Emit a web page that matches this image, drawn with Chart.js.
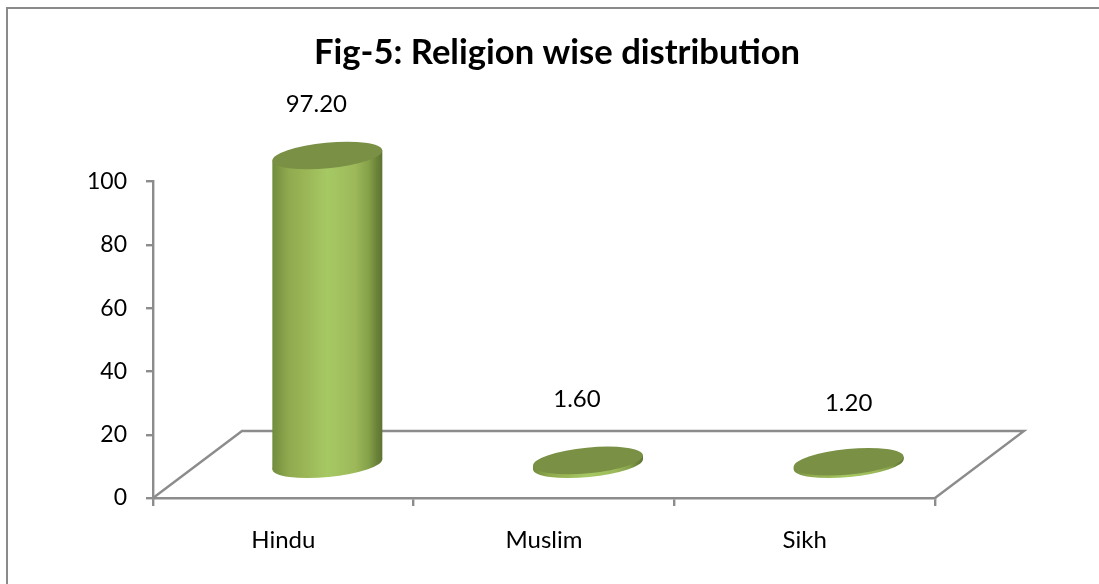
<!DOCTYPE html>
<html><head><meta charset="utf-8">
<style>html,body{margin:0;padding:0;background:#fff}#w{width:1099px;height:584px;position:relative}</style>
<script src="https://cdn.jsdelivr.net/npm/chart.js@4"></script>
</head><body><div id="w"><canvas id="c" width="1099" height="584"></canvas></div>
<script>
const categories = ['Hindu', 'Muslim', 'Sikh'];
const values = [97.2, 1.6, 1.2];
const valueLabels = ['97.20', '1.60', '1.20'];
const yTicks = [0, 20, 40, 60, 80, 100];
const titleText = 'Fig-5: Religion wise distribution';

const FONT = 'Lato, Carlito, Calibri, sans-serif';
const AXIS = '#8c8c8c';
const DEPTH_X = 89, DEPTH_Y = 67;

function ellipsePath(ctx, x, y) {
  ctx.beginPath();
  ctx.ellipse(x, y, 55.2, 12.8, -5.5 * Math.PI / 180, 0, Math.PI * 2);
}
const labelShift = [[-11, -51], [-11, -61], [0, -58]];

const cylinders = {
  id: 'cylinders',
  afterLayout(chart) {
    const t = chart.titleBlock;
    t.left = 0; t.right = 1114;
    const h = t.bottom - t.top;
    t.top = 32; t.bottom = 32 + h;
  },
  beforeDatasetsDraw(chart) {
    const { ctx, scales: { x, y } } = chart;
    const l = x.left, r = x.right, b = y.bottom;
    ctx.save();
    ctx.strokeStyle = AXIS; ctx.lineWidth = 2.4;
    ctx.beginPath();
    ctx.moveTo(l, b);
    ctx.lineTo(l + DEPTH_X, b - DEPTH_Y);
    ctx.lineTo(r + DEPTH_X, b - DEPTH_Y);
    ctx.lineTo(r, b);
    ctx.stroke();
    // frame
    ctx.lineWidth = 2;
    ctx.strokeStyle = '#8a8a8a';
    ctx.beginPath();
    ctx.moveTo(7, 584); ctx.lineTo(7, 8); ctx.lineTo(1099, 8);
    ctx.stroke();
    ctx.restore();
  },
  afterDatasetsDraw(chart) {
    const { ctx } = chart;
    const meta = chart.getDatasetMeta(0);
    meta.data.forEach((bar, i) => {
      const cx = bar.x + 44;
      const baseY = bar.base - 32.5;
      const topY = baseY - (bar.base - bar.y) * 1.008;
      const hw = 55, dy = 5;
      const g = ctx.createLinearGradient(cx - hw, 0, cx + hw, 0);
      g.addColorStop(0, '#718c3c');
      g.addColorStop(0.15, '#90aa4f');
      g.addColorStop(0.3, '#9ab656');
      g.addColorStop(0.5, '#a6c964');
      g.addColorStop(0.75, '#9db95a');
      g.addColorStop(0.88, '#84a049');
      g.addColorStop(0.95, '#6a8238');
      g.addColorStop(1, '#5c7433');
      ctx.save();
      ellipsePath(ctx, cx, baseY);
      ctx.fillStyle = g; ctx.fill();
      ctx.beginPath();
      ctx.moveTo(cx - hw, topY + dy);
      ctx.lineTo(cx + hw, topY - dy);
      ctx.lineTo(cx + hw, baseY - dy);
      ctx.lineTo(cx - hw, baseY + dy);
      ctx.closePath();
      ctx.fill();
      ellipsePath(ctx, cx, topY);
      ctx.fillStyle = '#7a9045'; ctx.fill();
      ctx.fillStyle = '#000';
      ctx.font = '24px ' + FONT;
      ctx.textAlign = 'center'; ctx.textBaseline = 'middle';
      ctx.fillText(valueLabels[i], cx + labelShift[i][0], topY + labelShift[i][1]);
      ctx.restore();
    });
  }
};

new Chart(document.getElementById('c'), {
  type: 'bar',
  data: { labels: categories, datasets: [{ data: values, backgroundColor: 'rgba(0,0,0,0)', borderWidth: 0 }] },
  options: {
    responsive: false, animation: false,
    layout: { padding: { left: 8, right: 164, top: 30, bottom: 30 } },
    plugins: {
      legend: { display: false }, tooltip: { enabled: false },
      title: { display: true, text: titleText, color: '#000', padding: { top: 0, bottom: 110 },
        font: { family: FONT, size: 34.6, weight: 'bold' } }
    },
    scales: {
      x: {
        afterFit(s) { s.height = 56; },
        border: { color: AXIS, width: 2.4 },
        grid: { display: true, drawOnChartArea: false, drawTicks: true, tickLength: 8, color: AXIS, lineWidth: 2.4 },
        ticks: { color: '#000', padding: 20, font: { family: FONT, size: 24 } }
      },
      y: {
        min: 0, max: 100,
        afterFit(s) { s.width = 145; },
        afterBuildTicks(s) { s.ticks = yTicks.map(v => ({ value: v })); },
        border: { color: AXIS, width: 2.4 },
        grid: { display: true, drawOnChartArea: false, drawTicks: true, tickLength: 7, color: AXIS, lineWidth: 2.4 },
        ticks: { color: '#000', padding: 19, font: { family: FONT, size: 23 } }
      }
    }
  },
  plugins: [cylinders]
});
</script></body></html>
